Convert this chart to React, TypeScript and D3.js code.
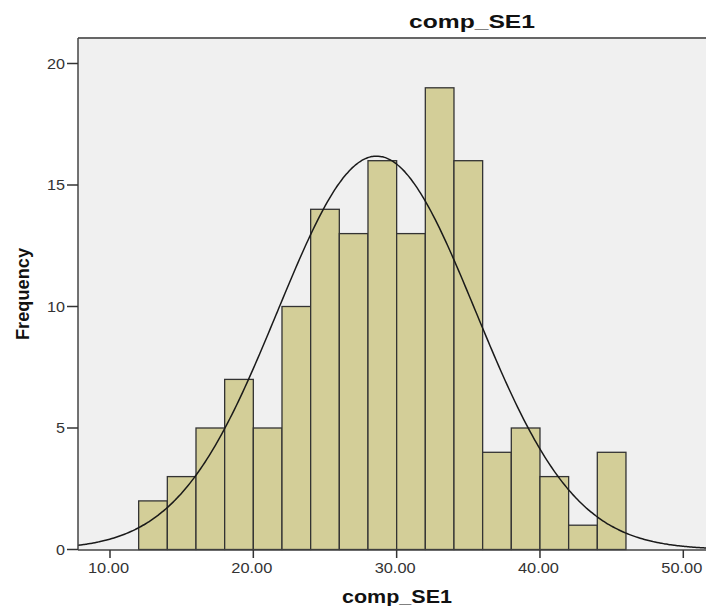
import React from "react";
import * as d3 from "d3";

const binStarts = [12, 14, 16, 18, 20, 22, 24, 26, 28, 30, 32, 34, 36, 38, 40, 42, 44];
const binWidth = 2;
const counts = [2, 3, 5, 7, 5, 10, 14, 13, 16, 13, 19, 16, 4, 5, 3, 1, 4];
const xTicks = [10, 20, 30, 40, 50];
const yTicks = [0, 5, 10, 15, 20];
const curveMean = 28.6;
const curveSd = 6.9;

export default function App() {
  const W = 706, H = 606;
  const left = 78, top = 38, bottom = 550, right = 712;
  const x = d3.scaleLinear().domain([10, 50]).range([110, 683.3]);
  const y = d3.scaleLinear().domain([0, 20]).range([549.5, 63.5]);
  const xMin = x.invert(left), xMax = x.invert(right);
  const n = d3.sum(counts);
  const pts = d3.range(0, 301).map((i) => {
    const v = xMin + (xMax - xMin) * (i / 300);
    const dens = Math.exp(-0.5 * ((v - curveMean) / curveSd) ** 2) / (curveSd * Math.sqrt(2 * Math.PI));
    return [v, dens * n * binWidth] as [number, number];
  });
  const line = d3.line<[number, number]>().x((d) => x(d[0])).y((d) => y(d[1])).curve(d3.curveBasis);
  const font = "'Liberation Sans', Arial, sans-serif";
  return (
    <svg width={W} height={H} style={{ position: "absolute", left: 0, top: 0 }}>
      <rect x={0} y={0} width={W} height={H} fill="#fff" />
      <rect x={left} y={top} width={right - left} height={bottom - top} fill="#f0f0f0" />
      {binStarts.map((s, i) => (
        <rect key={i} x={x(s)} y={y(counts[i])} width={x(s + binWidth) - x(s)} height={y(0) - y(counts[i])}
          fill="#d3ce98" stroke="#333" strokeWidth={1.3} />
      ))}
      <path d={line(pts) || ""} fill="none" stroke="#1a1a1a" strokeWidth={1.5} />
      <line x1={left} x2={right} y1={top} y2={top} stroke="#666" strokeWidth={2} />
      <line x1={left} x2={left} y1={top} y2={bottom} stroke="#444" strokeWidth={1.5} />
      <line x1={left} x2={right} y1={bottom} y2={bottom} stroke="#444" strokeWidth={1.5} />
      {yTicks.map((t) => (
        <g key={t}>
          <line x1={67} x2={left} y1={y(t)} y2={y(t)} stroke="#333" strokeWidth={1.5} />
          <text x={65} y={y(t) + 5} textAnchor="end" fontFamily={font} fontSize={14} fill="#333"
            textLength={String(t).length * 9} lengthAdjust="spacingAndGlyphs">{t}</text>
        </g>
      ))}
      {xTicks.map((t) => (
        <g key={t}>
          <line x1={x(t)} x2={x(t)} y1={bottom} y2={bottom + 8} stroke="#333" strokeWidth={1.5} />
          <text x={x(t) - 1.5} y={bottom + 23} textAnchor="middle" fontFamily={font} fontSize={14} fill="#333"
            textLength={41} lengthAdjust="spacingAndGlyphs">{t.toFixed(2)}</text>
        </g>
      ))}
      <text x={472} y={28} textAnchor="middle" fontFamily={font} fontSize={18} fontWeight="bold" fill="#111"
        textLength={126} lengthAdjust="spacingAndGlyphs">comp_SE1</text>
      <text x={397} y={603} textAnchor="middle" fontFamily={font} fontSize={18} fontWeight="bold" fill="#111"
        textLength={110} lengthAdjust="spacingAndGlyphs">comp_SE1</text>
      <text transform={`translate(28.5,294) rotate(-90)`} textAnchor="middle" fontFamily={font} fontSize={19} fontWeight="bold" fill="#111"
        textLength={92} lengthAdjust="spacingAndGlyphs">Frequency</text>
    </svg>
  );
}
